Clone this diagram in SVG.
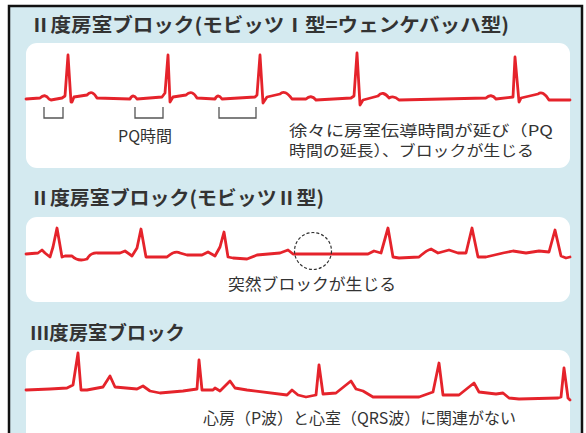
<svg xmlns="http://www.w3.org/2000/svg" width="586" height="433" viewBox="0 0 586 433">
<style>
.title{font-family:"Noto Sans CJK JP","Noto Sans",sans-serif;font-size:19px;font-weight:bold;fill:#333;}
.lbl{font-family:"Noto Sans CJK JP","Noto Sans",sans-serif;font-size:16px;fill:#333;}
.lbl2{font-family:"Noto Sans CJK JP","Noto Sans",sans-serif;font-size:15px;fill:#333;}
.panel{fill:#ffffff;}
.ecg{fill:none;stroke:#e5232b;stroke-width:2.8;stroke-linejoin:round;stroke-linecap:round;}
.brk{fill:none;stroke:#555;stroke-width:1.3;}
</style>
<rect x="0" y="0" width="586" height="433" fill="#ffffff"/>
<rect x="9" y="6" width="573" height="440" fill="#d4eaf0" stroke="#111" stroke-width="2.5"/>
<text x="-5" y="373" class="lbl">)</text>

<g id="section1">
<rect class="panel" x="26" y="43" width="544" height="125" rx="11"/>
<text class="title" x="30" y="32" textLength="479" lengthAdjust="spacingAndGlyphs">Ⅱ度房室ブロック(モビッツⅠ型=ウェンケバッハ型)</text>
<path class="ecg" d="M26,99 L40,98 Q45,93 49,99 L51,100 L62,98 L65,96 L68,55 L71,102 L72,102 L74,97 L87,95 Q92,89 97,98 L130,99 Q133,93 137,99 L162,97 L165,93 L168,55 L170,102 L173,97 L186,95 Q192,89 197,98 L215,99 Q218,93 222,99 L255,97 L257,95 L260,55 L263,103 L267,97 L280,94 Q285,89 292,99 L306,99 Q311,94 316,100 L351,98 L354,96 L357,53 L360,105 L363,100 L378,96 Q383,90 389,98 Q394,95 399,100 L486,98 Q491,93 496,99 L513,97 L515,57 L519,102 L521,98 L538,94 Q543,90 549,100 L570,100"/>
<path class="brk" d="M44,107 V118 H63 V107"/>
<path class="brk" d="M135,107 V118 H163 V107"/>
<path class="brk" d="M219,107 V118 H256 V107"/>
<text class="lbl" x="118" y="142">PQ時間</text>
<text class="lbl2" x="289" y="136" textLength="264" lengthAdjust="spacingAndGlyphs">徐々に房室伝導時間が延び（PQ</text>
<text class="lbl2" x="289" y="156" textLength="245" lengthAdjust="spacingAndGlyphs">時間の延長）、ブロックが生じる</text>
</g>

<g id="section2">
<rect class="panel" x="26" y="217" width="544" height="85" rx="11"/>
<text class="title" x="30" y="205" textLength="294" lengthAdjust="spacingAndGlyphs">Ⅱ度房室ブロック(モビッツⅡ型)</text>
<path class="ecg" d="M26,254 L38,253 L42,250 L45,253 L50,257 L53,247 L57,228 L62,257 L65,256 L72,256 Q78,262 87,259 Q91,252 98,253 L120,253 L125,251 L132,256 L137,248 L141,229 L146,257 L167,257 Q175,250 180,253 L187,255 L202,255 L208,252 L215,256 L220,247 L224,232 L228,257 L233,258 L247,259 L257,255 L280,253 L288,250 L293,254 L368,254 L374,251 L381,253 L388,228 L393,257 L399,258 L419,257 Q427,250 431,249 L438,253 L449,250 L458,253 L466,253 L472,228 L478,257 L486,257 L503,253 L513,251 L526,253 L539,251 L549,252 L555,230 L561,256 L566,258 L570,257"/>
<circle cx="313" cy="251" r="18.5" fill="none" stroke="#333" stroke-width="1.2" stroke-dasharray="3,2"/>
<text class="lbl" x="228" y="290" textLength="168" lengthAdjust="spacingAndGlyphs">突然ブロックが生じる</text>
</g>

<g id="section3">
<rect class="panel" x="26" y="350" width="544" height="100" rx="11"/>
<text class="title" x="30" y="340" textLength="155" lengthAdjust="spacingAndGlyphs">Ⅲ度房室ブロック</text>
<path class="ecg" d="M26,390 L50,389 L67,388 L73,385 L78,353 L81,390 L87,390 L103,387 L110,376 L115,387 L137,389 L143,386 L150,391 L160,393 L183,391 L197,389 L199,360 L202,390 L213,390 L215,388 L220,391 L230,381 L235,388 L247,390 L287,395 L292,390 L298,395 L306,397 L316,395 L319,365 L323,394 L336,393 L351,381 L356,389 L363,391 L373,397 L419,397 L433,392 L439,363 L443,395 L459,395 L474,383 L479,392 L496,394 L503,393 L509,398 L519,399 L558,398 L561,397 L564,368 L568,398 L570,400"/>
<text class="lbl" x="203" y="424" textLength="313" lengthAdjust="spacingAndGlyphs">心房（P波）と心室（QRS波）に関連がない</text>
</g>
</svg>
